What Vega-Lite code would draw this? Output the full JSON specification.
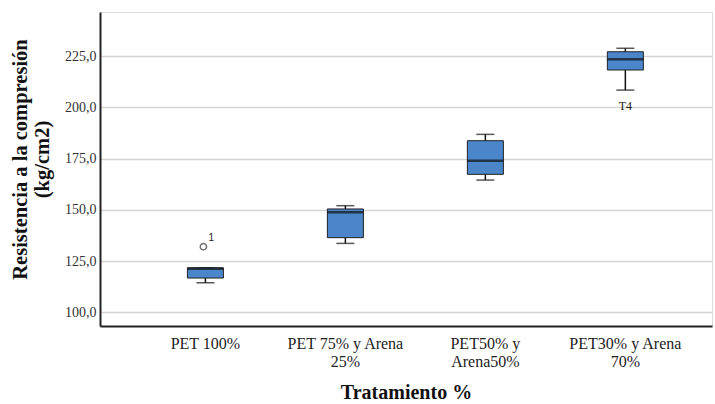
{
  "$schema": "https://vega.github.io/schema/vega-lite/v6.json",
  "width": 612,
  "height": 314,
  "autosize": {"type": "none"},
  "padding": {"left": 100, "top": 12, "right": 3, "bottom": 78},
  "background": "white",
  "datasets": {
    "boxes": [
      {"tratamiento": "PET 100%", "min": 114.4, "q1": 116.7, "mediana": 121.2, "q3": 121.7, "max": 121.7},
      {"tratamiento": "PET 75% y Arena 25%", "min": 133.6, "q1": 136.4, "mediana": 148.8, "q3": 150.4, "max": 152.0},
      {"tratamiento": "PET50% y Arena50%", "min": 164.5, "q1": 167.3, "mediana": 173.9, "q3": 183.7, "max": 186.8},
      {"tratamiento": "PET30% y Arena 70%", "min": 208.4, "q1": 218.2, "mediana": 223.5, "q3": 227.1, "max": 228.8}
    ],
    "atipicos": [
      {"tratamiento": "PET 100%", "valor": 132.0, "etiqueta": "1"}
    ],
    "etiquetas": [
      {"tratamiento": "PET30% y Arena 70%", "valor": 208.4, "etiqueta": "T4"}
    ]
  },
  "encoding": {
    "x": {
      "field": "tratamiento",
      "type": "nominal",
      "scale": {
        "domain": ["PET 100%", "PET 75% y Arena 25%", "PET50% y Arena50%", "PET30% y Arena 70%"],
        "paddingInner": 0,
        "paddingOuter": 0.186,
        "align": 0.68
      },
      "axis": {
        "title": "Tratamiento %",
        "titleFont": "Liberation Serif",
        "titleFontSize": 20,
        "titleFontWeight": "bold",
        "titleColor": "#111",
        "titlePadding": 13,
        "labelFont": "Liberation Serif",
        "labelFontSize": 16,
        "labelColor": "#222",
        "labelAngle": 0,
        "labelPadding": 9,
        "labelLineHeight": 18,
        "labelExpr": "datum.label == 'PET 75% y Arena 25%' ? ['PET 75% y Arena', '25%'] : datum.label == 'PET50% y Arena50%' ? ['PET50% y', 'Arena50%'] : datum.label == 'PET30% y Arena 70%' ? ['PET30% y Arena', '70%'] : datum.label",
        "ticks": false,
        "domainColor": "#222",
        "domainWidth": 2,
        "grid": false
      }
    }
  },
  "layer": [
    {
      "data": {"name": "boxes"},
      "mark": {"type": "rule", "color": "#111", "strokeWidth": 1.5},
      "encoding": {
        "y": {
          "field": "min",
          "type": "quantitative",
          "scale": {"domain": [93.3, 246.5], "nice": false, "zero": false},
          "axis": {
            "values": [100, 125, 150, 175, 200, 225],
            "labelExpr": "replace(format(datum.value, '.1f'), '.', ',')",
            "title": ["Resistencia a la compresión", "(kg/cm2)"],
            "titleFont": "Liberation Serif",
            "titleFontSize": 20.5,
            "titleFontWeight": "bold",
            "titleColor": "#111",
            "titlePadding": 12,
            "titleLineHeight": 22,
            "titleY": 147,
            "labelFont": "Liberation Serif",
            "labelFontSize": 14,
            "labelColor": "#333",
            "labelPadding": 4,
            "ticks": false,
            "domainColor": "#222",
            "domainWidth": 2,
            "grid": true,
            "gridColor": "#d4d4d4",
            "gridWidth": 1.5
          }
        },
        "y2": {"field": "max"}
      }
    },
    {
      "data": {"name": "boxes"},
      "mark": {"type": "tick", "color": "#111", "size": 18, "thickness": 1.5},
      "encoding": {"y": {"field": "min", "type": "quantitative"}}
    },
    {
      "data": {"name": "boxes"},
      "mark": {"type": "tick", "color": "#111", "size": 18, "thickness": 1.5},
      "encoding": {"y": {"field": "max", "type": "quantitative"}}
    },
    {
      "data": {"name": "boxes"},
      "mark": {"type": "bar", "size": 36, "fill": "#4a86c9", "stroke": "#222", "strokeWidth": 1},
      "encoding": {
        "y": {"field": "q1", "type": "quantitative"},
        "y2": {"field": "q3"}
      }
    },
    {
      "data": {"name": "boxes"},
      "mark": {"type": "tick", "color": "#111", "size": 36, "thickness": 2.5},
      "encoding": {"y": {"field": "mediana", "type": "quantitative"}}
    },
    {
      "data": {"name": "atipicos"},
      "mark": {"type": "point", "shape": "circle", "filled": false, "stroke": "#333", "strokeWidth": 1.5, "size": 40, "xOffset": -2},
      "encoding": {"y": {"field": "valor", "type": "quantitative"}}
    },
    {
      "data": {"name": "atipicos"},
      "mark": {"type": "text", "font": "Liberation Sans", "fontSize": 10, "color": "#222", "dx": 6, "dy": -9},
      "encoding": {
        "y": {"field": "valor", "type": "quantitative"},
        "text": {"field": "etiqueta"}
      }
    },
    {
      "data": {"name": "etiquetas"},
      "mark": {"type": "text", "font": "Liberation Serif", "fontSize": 12, "color": "#222", "dy": 16},
      "encoding": {
        "y": {"field": "valor", "type": "quantitative"},
        "text": {"field": "etiqueta"}
      }
    }
  ]
}
